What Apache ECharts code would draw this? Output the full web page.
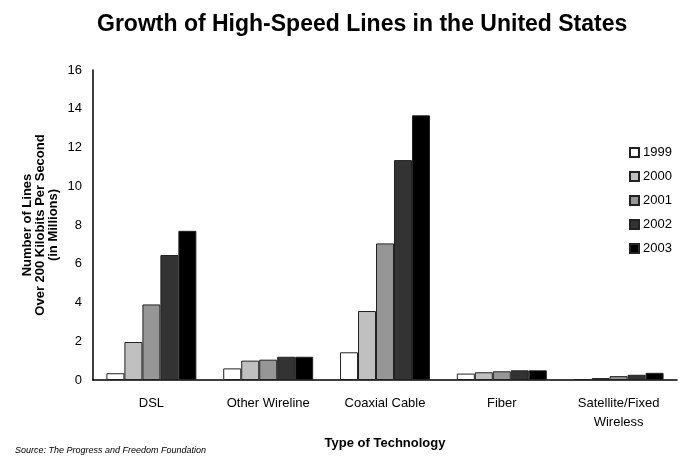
<!DOCTYPE html>
<html>
<head>
<meta charset="utf-8">
<script src="https://cdn.jsdelivr.net/npm/echarts@6/dist/echarts.min.js"></script>
<style>
  html, body { margin: 0; padding: 0; background: #fff; }
  #chart { width: 700px; height: 460px; }
</style>
</head>
<body>
<div id="chart"></div>
<script>
var categories = ['DSL', 'Other Wireline', 'Coaxial Cable', 'Fiber', 'Satellite/Fixed\nWireless'];
var years = ['1999', '2000', '2001', '2002', '2003'];
var values1999 = [0.35, 0.6, 1.43, 0.33, 0.05];
var values2000 = [1.96, 1.0, 3.56, 0.4, 0.1];
var values2001 = [3.9, 1.05, 7.05, 0.45, 0.2];
var values2002 = [6.45, 1.2, 11.35, 0.5, 0.27];
var values2003 = [7.7, 1.2, 13.66, 0.5, 0.37];
var yTicks = [0, 2, 4, 6, 8, 10, 12, 14, 16];

var seriesValues = [values1999, values2000, values2001, values2002, values2003];
var colors = ['#ffffff', '#c0c0c0', '#969696', '#333333', '#000000'];
var FONT = '"Liberation Sans", Arial, sans-serif';

var chart = echarts.init(document.getElementById('chart'), null, { renderer: 'canvas' });

var series = years.map(function (y, i) {
  return {
    name: y,
    type: 'bar',
    data: seriesValues[i],
    barGap: '0%',
    barCategoryGap: '23%',
    itemStyle: { color: colors[i], borderColor: '#222', borderWidth: 1 },
    emphasis: { disabled: true },
    animation: false
  };
});

chart.setOption({
  animation: false,
  textStyle: { fontFamily: FONT },
  title: {
    text: 'Growth of High-Speed Lines in the United States',
    left: 92,
    top: 8,
    textStyle: { fontFamily: FONT, fontSize: 23, fontWeight: 'bold', color: '#000' }
  },
  legend: {
    data: years,
    orient: 'vertical',
    left: 624,
    top: 141,
    itemWidth: 9,
    itemHeight: 9,
    itemGap: 11,
    icon: 'rect',
    textStyle: { fontFamily: FONT, fontSize: 13, color: '#000', padding: [0, 0, 0, -1] },
    selectedMode: false
  },
  grid: { left: 93, right: 23, top: 70, bottom: 80, containLabel: false },
  xAxis: {
    type: 'category',
    data: categories,
    axisLine: { lineStyle: { color: '#000', width: 1.5 } },
    axisTick: { show: false },
    axisLabel: { fontFamily: FONT, fontSize: 13, color: '#000', margin: 14, lineHeight: 19 },
    name: 'Type of Technology',
    nameLocation: 'middle',
    nameGap: 44,
    nameTextStyle: { fontFamily: FONT, fontSize: 13, fontWeight: 'bold', color: '#000' }
  },
  yAxis: {
    type: 'value',
    min: yTicks[0],
    max: yTicks[yTicks.length - 1],
    interval: 2,
    splitLine: { show: false },
    axisLine: { show: true, lineStyle: { color: '#000', width: 1.5 } },
    axisTick: { show: false },
    axisLabel: { fontFamily: FONT, fontSize: 13, color: '#000', margin: 11 }
  },
  graphic: [
    {
      type: 'text',
      x: 40,
      y: 225,
      rotation: Math.PI / 2,
      style: {
        text: 'Number of Lines\nOver 200 Kilobits Per Second\n(in Millions)',
        font: 'bold 13px ' + FONT,
        fill: '#000',
        align: 'center',
        verticalAlign: 'middle',
        lineHeight: 13
      }
    },
    {
      type: 'text',
      left: 15,
      top: 446,
      style: {
        text: 'Source: The Progress and Freedom Foundation',
        font: 'italic 9px ' + FONT,
        fill: '#000'
      }
    }
  ],
  series: series
});
</script>
</body>
</html>
